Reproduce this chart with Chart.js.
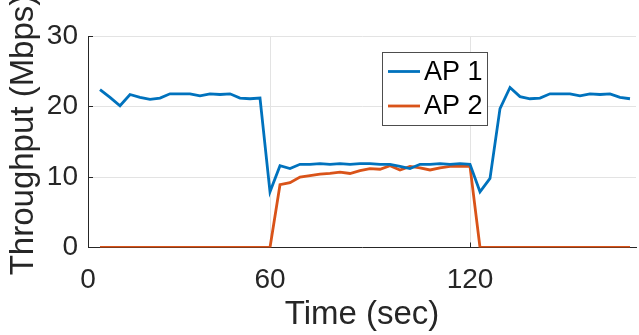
<!DOCTYPE html>
<html>
<head>
<meta charset="utf-8">
<script src="https://cdn.jsdelivr.net/npm/chart.js@4"></script>
<style>
  html, body { margin: 0; padding: 0; background: #fff; }
  canvas { display: block; }
</style>
</head>
<body>
<canvas id="chart" width="639" height="335"></canvas>
<script>
// ===== DATA =====
const times = [9, 12, 15, 18, 21, 24, 27, 30, 33, 36, 39, 42, 45, 48, 51, 54, 57, 60,
  63, 66, 69, 72, 75, 78, 81, 84, 87, 90, 93, 96, 99, 102, 105, 108, 111, 114, 117, 120,
  123, 126, 129, 132, 135, 138, 141, 144, 147, 150, 153, 156, 159, 162, 165, 168];

const ap1 = [22.4, 21.3, 20.1, 21.7, 21.3, 21.0, 21.2, 21.8, 21.8, 21.8, 21.5, 21.8, 21.7, 21.8, 21.2, 21.1, 21.2, 7.9,
  11.6, 11.2, 11.8, 11.8, 11.9, 11.8, 11.9, 11.8, 11.9, 11.9, 11.8, 11.8, 11.5, 11.2, 11.8, 11.8, 11.9, 11.8, 11.9, 11.8,
  7.9, 9.8, 19.7, 22.7, 21.4, 21.1, 21.2, 21.8, 21.8, 21.8, 21.5, 21.8, 21.7, 21.8, 21.3, 21.1];

const ap2 = [0, 0, 0, 0, 0, 0, 0, 0, 0, 0, 0, 0, 0, 0, 0, 0, 0, 0,
  8.9, 9.2, 10.0, 10.2, 10.4, 10.5, 10.7, 10.5, 10.9, 11.2, 11.1, 11.6, 11.0, 11.5, 11.3, 11.0, 11.3, 11.5, 11.5, 11.5,
  0, 0, 0, 0, 0, 0, 0, 0, 0, 0, 0, 0, 0, 0, 0, 0];

const seriesNames = ["AP 1", "AP 2"];
const xTicks = [0, 60, 120];
const yTicks = [0, 10, 20, 30];
const xTitle = "Time (sec)";
const yTitle = "Throughput (Mbps)";

// ===== STYLE =====
const BLUE = "#0072BD";
const ORANGE = "#D95319";
const AXIS = "#262626";
const GRID = "#e3e3e3";
const FONT = "'Liberation Sans', Arial, sans-serif";

// x range visible in the picture (axis starts a little after 0)
const X_MIN = 5.4;
const X_MAX = 169.8;

// ===== LEGEND + Y TITLE =====
const extras = {
  id: "extras",
  afterDraw(chart){
    const ctx = chart.ctx;
    ctx.save();

    // y title, a bit above the plot centre (runs off the top like the original)
    ctx.translate(24, 135);
    ctx.rotate(-Math.PI / 2);
    ctx.fillStyle = AXIS;
    ctx.font = "33px " + FONT;
    ctx.textAlign = "center";
    ctx.textBaseline = "middle";
    ctx.fillText(yTitle, 0, 0);
    ctx.setTransform(1, 0, 0, 1, 0, 0);

    // legend box
    const x = 382.5, y = 52.5, w = 105, h = 73;
    ctx.fillStyle = "#fff";
    ctx.fillRect(x, y, w, h);
    ctx.strokeStyle = "#4d4d4d";
    ctx.lineWidth = 1;
    ctx.strokeRect(x, y, w, h);

    const rows = [71.5, 106];
    chart.data.datasets.forEach((ds, i)=>{
      ctx.strokeStyle = ds.borderColor;
      ctx.lineWidth = 2.8;
      ctx.beginPath();
      ctx.moveTo(388, rows[i]);
      ctx.lineTo(420, rows[i]);
      ctx.stroke();

      ctx.fillStyle = "#000";
      ctx.font = "27px " + FONT;
      ctx.textBaseline = "middle";
      ctx.textAlign = "left";
      ctx.fillText(ds.label, 424, rows[i] + 1);
    });
    ctx.restore();
  }
};

// ===== CHART =====
const ctx = document.getElementById("chart").getContext("2d");

new Chart(ctx, {
  type: "line",
  data: {
    datasets: [
      {
        label: seriesNames[0],
        data: times.map((t, i)=>({x: t, y: ap1[i]})),
        borderColor: BLUE,
        borderWidth: 2.8,
        pointRadius: 0,
        tension: 0
      },
      {
        label: seriesNames[1],
        data: times.map((t, i)=>({x: t, y: ap2[i]})),
        borderColor: ORANGE,
        borderWidth: 2.8,
        pointRadius: 0,
        tension: 0
      }
    ]
  },
  options: {
    responsive: false,
    devicePixelRatio: 1,
    animation: false,
    layout: { padding: { top: 36, right: 3, left: 0, bottom: 0 } },
    plugins: {
      legend: { display: false },
      tooltip: { enabled: false }
    },
    scales: {
      x: {
        type: "linear",
        min: X_MIN,
        max: X_MAX,
        afterBuildTicks: (scale)=>{
          // first label sits at the left axis corner as in the picture
          scale.ticks = xTicks.map(v => ({ value: v === 0 ? X_MIN : v }));
        },
        afterFit: (scale)=>{ scale.height = 87.5; },
        ticks: {
          color: AXIS,
          font: { family: FONT, size: 28 },
          padding: 21,
          maxRotation: 0,
          callback: (v)=> v === X_MIN ? "0" : String(v)
        },
        grid: { color: GRID, tickLength: -5, tickColor: AXIS },
        border: { color: AXIS, width: 1 },
        title: {
          display: true,
          text: xTitle,
          color: AXIS,
          font: { family: FONT, size: 33 },
          padding: { top: 0, bottom: 0 }
        }
      },
      y: {
        min: 0,
        max: 30,
        afterBuildTicks: (scale)=>{
          scale.ticks = yTicks.map(v => ({ value: v }));
        },
        afterFit: (scale)=>{ scale.width = 88; },
        ticks: {
          color: AXIS,
          font: { family: FONT, size: 28 },
          padding: 15
        },
        grid: { color: GRID, tickLength: -5, tickColor: AXIS },
        border: { color: AXIS, width: 1 },
        title: { display: false }
      }
    }
  },
  plugins: [extras]
});
</script>
</body>
</html>
